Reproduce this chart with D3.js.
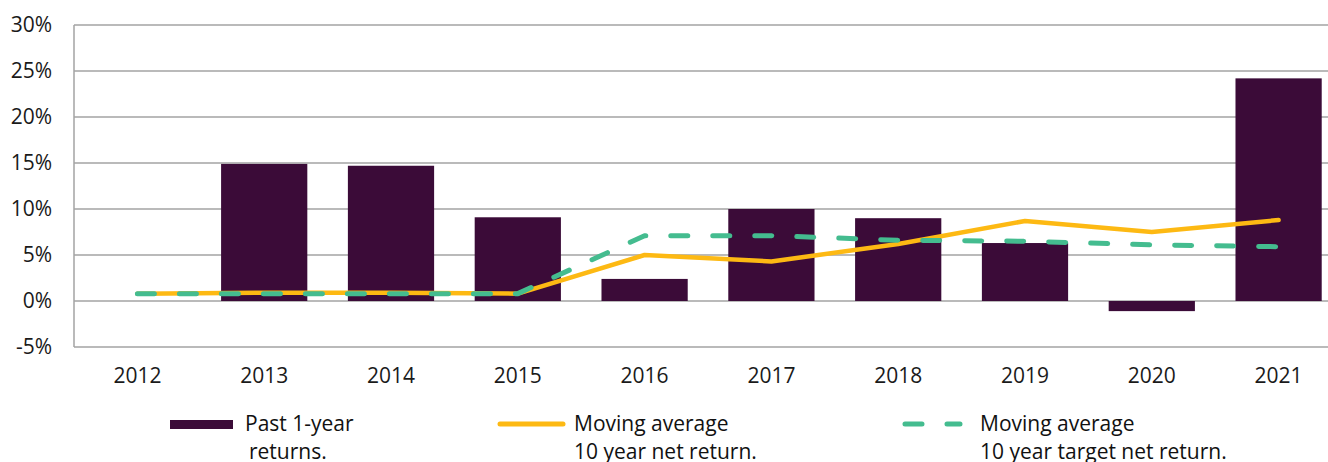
<!DOCTYPE html>
<html>
<head>
<meta charset="utf-8">
<script src="https://cdn.jsdelivr.net/npm/d3@7"></script>
<style>
  body { margin: 0; background: #fff; }
  svg { display: block; font-family: "Open Sans", sans-serif; }
</style>
</head>
<body>
<svg id="chart"></svg>
<script>
// chart data
const years = ["2012", "2013", "2014", "2015", "2016", "2017", "2018", "2019", "2020", "2021"];
const pastReturns = [null, 14.9, 14.7, 9.1, 2.4, 10.0, 9.0, 6.3, -1.1, 24.2];
const netReturnAvg = [0.8, 0.9, 0.9, 0.8, 5.0, 4.3, 6.2, 8.7, 7.5, 8.8];
const targetReturnAvg = [0.8, 0.8, 0.8, 0.8, 7.1, 7.1, 6.6, 6.5, 6.1, 5.9];
const yTicks = [-5, 0, 5, 10, 15, 20, 25, 30];

const width = 1328;
const height = 462;
const margin = { top: 25, left: 74, bottom: 115 };

const colors = { bar: "#3b0b38", net: "#fdb913", target: "#44bc8f", grid: "#a3a3a3" };

const svg = d3.select("#chart")
    .attr("width", width)
    .attr("height", height);

const x = d3.scaleBand()
    .domain(years)
    .range([margin.left, margin.left + 10 * 126.8])
    .paddingInner(0.32)
    .paddingOuter(0.16);

const y = d3.scaleLinear()
    .domain([-5, 30])
    .range([height - margin.bottom, margin.top]);

// gridlines
svg.append("g")
    .selectAll("line")
    .data(yTicks)
    .enter().append("line")
    .attr("x1", margin.left)
    .attr("x2", width)
    .attr("y1", d => y(d))
    .attr("y2", d => y(d))
    .attr("stroke", colors.grid)
    .attr("stroke-width", 1.5);

svg.append("line")
    .attr("x1", margin.left).attr("x2", margin.left)
    .attr("y1", y(30)).attr("y2", y(-5))
    .attr("stroke", colors.grid)
    .attr("stroke-width", 1.5);

// y labels
svg.append("g")
    .selectAll("text")
    .data(yTicks)
    .enter().append("text")
    .attr("x", 52)
    .attr("y", d => y(d))
    .attr("dy", "0.35em")
    .attr("text-anchor", "end")
    .style("font-size", "21px")
    .style("fill", "#1a1a1a")
    .text(d => d + "%");

// x labels
svg.append("g")
    .selectAll("text")
    .data(years)
    .enter().append("text")
    .attr("x", d => x(d) + x.bandwidth() / 2)
    .attr("y", 376)
    .attr("dy", "0.35em")
    .attr("text-anchor", "middle")
    .style("font-size", "21px")
    .style("fill", "#1a1a1a")
    .text(d => d);

// bars
const barData = years.map((yr, i) => ({ year: yr, value: pastReturns[i] })).filter(d => d.value !== null);
svg.append("g")
    .selectAll("rect")
    .data(barData)
    .enter().append("rect")
    .attr("x", d => x(d.year))
    .attr("width", x.bandwidth())
    .attr("y", d => y(Math.max(0, d.value)))
    .attr("height", d => Math.abs(y(d.value) - y(0)))
    .attr("fill", colors.bar);

// lines
const cx = (d, i) => x(years[i]) + x.bandwidth() / 2;
const line = d3.line().x(cx).y(d => y(d));

svg.append("path")
    .datum(netReturnAvg)
    .attr("d", line)
    .attr("fill", "none")
    .attr("stroke", colors.net)
    .attr("stroke-width", 4.5)
    .attr("stroke-linejoin", "round")
    .attr("stroke-linecap", "round");

svg.append("path")
    .datum(targetReturnAvg)
    .attr("d", line)
    .attr("fill", "none")
    .attr("stroke", colors.target)
    .attr("stroke-width", 5)
    .attr("stroke-dasharray", "17,25")
    .attr("stroke-linecap", "round");

// legend
const legend = svg.append("g").style("font-size", "21px").style("fill", "#111");

legend.append("rect")
    .attr("x", 170).attr("y", 420)
    .attr("width", 63).attr("height", 9)
    .attr("fill", colors.bar);
legend.append("text").attr("x", 245).attr("y", 424).attr("dy", "0.35em").text("Past 1-year");
legend.append("text").attr("x", 249).attr("y", 452).attr("dy", "0.35em").text("returns.");

legend.append("line")
    .attr("x1", 500).attr("x2", 563)
    .attr("y1", 424).attr("y2", 424)
    .attr("stroke", colors.net)
    .attr("stroke-width", 5)
    .attr("stroke-linecap", "round");
legend.append("text").attr("x", 574).attr("y", 424).attr("dy", "0.35em").text("Moving average");
legend.append("text").attr("x", 574).attr("y", 452).attr("dy", "0.35em").text("10 year net return.");

legend.append("line")
    .attr("x1", 905).attr("x2", 960)
    .attr("y1", 424).attr("y2", 424)
    .attr("stroke", colors.target)
    .attr("stroke-width", 5)
    .attr("stroke-dasharray", "17,25")
    .attr("stroke-linecap", "round");
legend.append("text").attr("x", 980).attr("y", 424).attr("dy", "0.35em").text("Moving average");
legend.append("text").attr("x", 980).attr("y", 452).attr("dy", "0.35em").text("10 year target net return.");
</script>
</body>
</html>
